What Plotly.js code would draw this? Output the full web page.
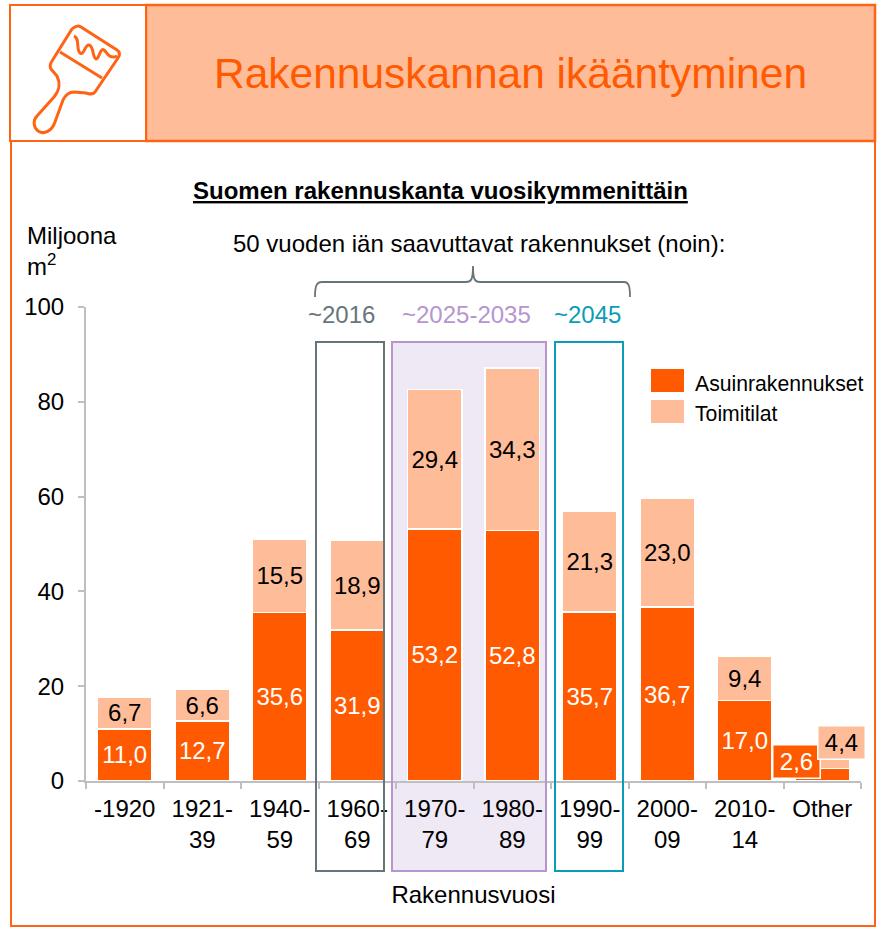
<!DOCTYPE html>
<html><head><meta charset="utf-8">
<script src="https://cdn.plot.ly/plotly-3.0.1.min.js"></script>
<style>html,body{margin:0;padding:0;background:#fff}</style></head>
<body><div id="chart" style="width:877px;height:927px"></div>
<script>
const categories = ['-1920','1921-<br>39','1940-<br>59','1960-<br>69','1970-<br>79','1980-<br>89','1990-<br>99','2000-<br>09','2010-<br>14','Other'];
const asuin = [11.0,12.7,35.6,31.9,53.2,52.8,35.7,36.7,17.0,2.6];
const toimi = [6.7,6.6,15.5,18.9,29.4,34.3,21.3,23.0,9.4,4.4];
const seriesNames = ['Asuinrakennukset','Toimitilat'];
const mainTitle = 'Rakennuskannan ikääntyminen';
const subTitle = 'Suomen rakennuskanta vuosikymmenittäin';
const noteText = '50 vuoden iän saavuttavat rakennukset (noin):';
const periods = ['~2016','~2025-2035','~2045'];

const W=877,H=927,L=86,R=861,T=307,B=781;
const ORANGE='#FF5A00',LIGHT='#FFBC99',BORDER='#FF6414',GREY='#66747C',PURPLE='#B795D0',TEAL='#0B9DB8';
const FONT='"Liberation Sans", Arial, sans-serif';
const px=x=>(x-L)/(R-L), py=y=>(B-y)/(B-T);
const rect=(x0,y0,x1,y1,fill,line,w,layer)=>({type:'rect',xref:'paper',yref:'paper',x0:px(x0),x1:px(x1),y0:py(y1),y1:py(y0),
  fillcolor:fill,line:{color:line,width:w},layer:layer||'below'});
const path=(d,color,w,fill)=>({type:'path',xref:'paper',yref:'paper',layer:'above',line:{color:color,width:w},fillcolor:fill||'rgba(0,0,0,0)',
  path:d.replace(/(-?[\d.]+),(-?[\d.]+)/g,(m,a,b)=>px(+a).toFixed(5)+','+py(+b).toFixed(5))});
const text=(x,y,t,size,color,anchor,extra)=>Object.assign({xref:'paper',yref:'paper',x:px(x),y:py(y),text:t,showarrow:false,
  xanchor:anchor||'center',yanchor:'middle',align:anchor||'center',font:{family:FONT,size:size,color:color||'#000'}},extra||{});

const shapes=[
  rect(11,141,875,926,'#fff',BORDER,2),
  rect(146,5,875,141,LIGHT,BORDER,2.5),
  rect(10,5,146,141,'#fff',BORDER,2),
  rect(392,342,546,871,'#EFE8F5',PURPLE,2),
  rect(316,342,384,871,'rgba(0,0,0,0)',GREY,2,'above'),
  rect(555,342,623,871,'rgba(0,0,0,0)',TEAL,2,'above'),
  rect(392,342,546,871,'rgba(0,0,0,0)',PURPLE,2,'above'),
  rect(651,369,684,392,ORANGE,ORANGE,0,'above'),
  rect(651,400,684,423,LIGHT,LIGHT,0,'above'),
  path('M 315,297 C 315,287 316,282 322,282 L 466,282 C 471,282 473,280 473,266 C 473,280 475,282 480,282 L 624,282 C 629,282 630,287 630,297',GREY,1.8),
  path('M 72,29 C 75,26 78,25 81,27 L 117,50 C 120,52 120,55 118,58 L 95,92 C 93,95 90,94 86,93 L 74,92 C 68,92 65,96 63,100 L 55,122 C 52,131 44,135 38,131 C 33,127 33,120 37,116 L 54,97 C 60,90 60,82 57,76 L 51,69 C 49,66 50,64 52,61 Z',BORDER,3),
  path('M 60,52 L 102,78',BORDER,3),
  path('M 74,36 C 80,38 76,50 80,53 C 84,56 85,44 89,45 C 94,46 92,57 96,59 C 99,60 100,47 104,50 C 107,52 109,60 117,56',BORDER,3),
  path('M 43,121 A 3,3 0 1 1 49,121 A 3,3 0 1 1 43,121 Z',BORDER,1,BORDER)
];
const fmt=v=>v.toFixed(1).replace('.',',');
const last=categories.length-1;
const annotations=[
  text(510,73,mainTitle,42.5,'#FF5A00'),
  text(440.5,190,'<b><u>'+subTitle+'</u></b>',24),
  text(479,244,noteText,24),
  text(25,251,'Miljoona<br>m<sup>2</sup>',24,'#000','left'),
  text(341,314,periods[0],24,GREY),
  text(466,314,periods[1],24,PURPLE),
  text(587,314,periods[2],24,TEAL),
  text(693,383,seriesNames[0],21.2,'#000','left'),
  text(693,413,seriesNames[1],21.2,'#000','left'),
  {x:last,y:asuin[last],xref:'x',yref:'y',xshift:-25.5,yshift:7,xanchor:'center',yanchor:'middle',width:46,height:32,text:fmt(asuin[last]),showarrow:false,
   font:{family:FONT,size:24,color:'#fff'},bgcolor:ORANGE,bordercolor:'#fff',borderwidth:1.5,borderpad:0},
  {x:last,y:asuin[last]+toimi[last],xref:'x',yref:'y',xshift:19.5,yshift:5,xanchor:'center',yanchor:'middle',width:46,height:32,text:fmt(toimi[last]),showarrow:false,
   font:{family:FONT,size:24,color:'#000'},bgcolor:LIGHT,bordercolor:'#fff',borderwidth:1.5,borderpad:0}
];
const bar=(name,y,color,tc)=>({type:'bar',name,x:categories,y,marker:{color,line:{color:'#fff',width:1.5}},
  text:y.slice(0,last).map(fmt),textinfo:'text',textposition:'inside',insidetextanchor:'middle',textangle:0,constraintext:'none',
  textfont:{family:FONT,size:24,color:tc},hoverinfo:'x+y'});
Plotly.newPlot('chart',[bar(seriesNames[0],asuin,ORANGE,'#fff'),bar(seriesNames[1],toimi,LIGHT,'#000')],{
  width:W,height:H,barmode:'stack',bargap:0.3,showlegend:false,separators:',.',
  margin:{l:L,r:W-R,t:T,b:H-B,pad:0},paper_bgcolor:'#fff',plot_bgcolor:'rgba(0,0,0,0)',
  font:{family:FONT,size:24,color:'#000'},
  xaxis:{type:'category',range:[-0.5,last+0.5],tickson:'boundaries',ticks:'outside',ticklen:6,tickcolor:'#BFBFBF',tickwidth:2,showline:true,linecolor:'#BFBFBF',linewidth:2,
    showgrid:false,zeroline:false,tickangle:0,automargin:false,ticklabelstandoff:5,tickfont:{family:FONT,size:24,color:'#000'},
    title:{text:'Rakennusvuosi',font:{family:FONT,size:24,color:'#000'},standoff:34}},
  yaxis:{range:[0,100],tickvals:[0,20,40,60,80,100],ticks:'outside',ticklen:6,tickcolor:'#BFBFBF',tickwidth:2,showline:true,linecolor:'#BFBFBF',linewidth:2,
    showgrid:false,zeroline:false,automargin:false,ticklabelstandoff:9,tickfont:{family:FONT,size:24,color:'#000'}},
  shapes,annotations
},{displayModeBar:false});
</script></body></html>
